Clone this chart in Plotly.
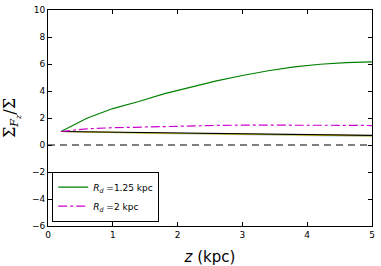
import plotly.graph_objects as go

z = [0.2, 0.6, 1.0, 1.4, 1.8, 2.2, 2.6, 3.0, 3.4, 3.8, 4.2, 4.6, 5.0]
green = [1.0, 1.98, 2.7, 3.22, 3.8, 4.3, 4.75, 5.15, 5.5, 5.78, 5.98, 6.1, 6.15]
magenta = [1.0, 1.2, 1.28, 1.33, 1.38, 1.42, 1.45, 1.47, 1.48, 1.48, 1.47, 1.46, 1.44]
black = [1.0, 0.98, 0.96, 0.93, 0.91, 0.88, 0.85, 0.83, 0.80, 0.78, 0.76, 0.74, 0.72]
yellow = [1.0, 0.95, 0.92, 0.90, 0.87, 0.84, 0.81, 0.78, 0.76, 0.73, 0.71, 0.69, 0.67]
lightblue = [1.0, 0.94, 0.90, 0.87, 0.84, 0.81, 0.78, 0.75, 0.72, 0.69, 0.66, 0.64, 0.62]
pink = [1.0, 0.96, 0.93, 0.91, 0.88, 0.85, 0.83, 0.80, 0.78, 0.76, 0.74, 0.72, 0.70]
zero_x = [0, 5]
zero_y = [0, 0]
x_ticks = [0, 1, 2, 3, 4, 5]
y_ticks = [-6, -4, -2, 0, 2, 4, 6, 8, 10]

fig = go.Figure()
fig.add_trace(go.Scatter(x=zero_x, y=zero_y, mode="lines", line=dict(color="black", width=1.2, dash="7px,5px"), showlegend=False))
fig.add_trace(go.Scatter(x=z, y=lightblue, mode="lines", line=dict(color="rgba(140,170,230,0.6)", width=1), showlegend=False))
fig.add_trace(go.Scatter(x=z, y=pink, mode="lines", line=dict(color="rgba(240,150,150,0.6)", width=1), showlegend=False))
fig.add_trace(go.Scatter(x=z, y=yellow, mode="lines", line=dict(color="#d8d800", width=1.2), showlegend=False))
fig.add_trace(go.Scatter(x=z, y=black, mode="lines", line=dict(color="black", width=1.2), showlegend=False))
fig.add_trace(go.Scatter(x=z, y=green, mode="lines", line=dict(color="green", width=1.2),
                         name="<i>R</i><sub><i>d</i></sub> =1.25 kpc"))
fig.add_trace(go.Scatter(x=z, y=magenta, mode="lines", line=dict(color="#cc00cc", width=1.2, dash="dashdot"),
                         name="<i>R</i><sub><i>d</i></sub> =2 kpc"))

axis_common = dict(showgrid=False, zeroline=False, showline=True, linecolor="black", linewidth=1,
                   mirror="ticks", ticks="inside", ticklen=4, tickcolor="black", automargin=False,
                   tickfont=dict(family="DejaVu Sans", size=9, color="black"))
fig.update_xaxes(range=[0, 5], tickmode="array", tickvals=x_ticks, ticktext=[str(t) for t in x_ticks], **axis_common,
                 title=dict(text="<i>z</i> (kpc)", font=dict(family="DejaVu Sans", size=15, color="black")))
fig.update_yaxes(range=[-6, 10], tickmode="array", tickvals=y_ticks, ticktext=[str(t).replace("-", "−") for t in y_ticks], **axis_common,
                 title=dict(text="Σ<sub><i>F</i><sub><i>z</i></sub></sub>/Σ", font=dict(family="DejaVu Serif", size=16, color="black")))
fig.update_layout(width=381, height=266, margin=dict(l=48, r=9, t=10, b=40, autoexpand=False),
                  plot_bgcolor="white", paper_bgcolor="white",
                  legend=dict(x=0.013, y=0.02, xanchor="left", yanchor="bottom", bordercolor="black", borderwidth=1,
                              bgcolor="white", font=dict(family="DejaVu Sans", size=9, color="black"),
                              tracegroupgap=0, itemwidth=30))
fig.write_html("out.html", config={"displayModeBar": False},
               post_script="document.body.style.margin='0';document.body.style.padding='0';")
